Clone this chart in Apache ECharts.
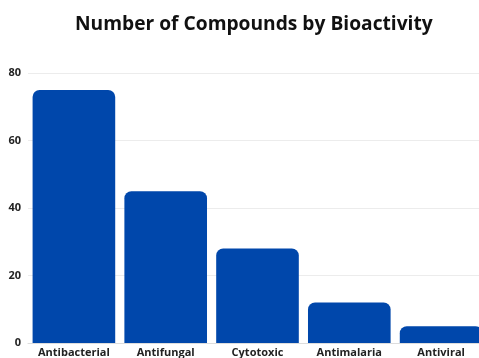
<!DOCTYPE html>
<html>
<head>
<meta charset="utf-8">
<script src="https://cdn.jsdelivr.net/npm/echarts@6/dist/echarts.min.js"></script>
<style>
  html, body { margin: 0; padding: 0; background: #ffffff; }
  #chart { width: 479px; height: 358px; }
</style>
</head>
<body>
<div id="chart"></div>
<script>
// Compound counts grouped by bioactivity class
const categories = ['Antibacterial', 'Antifungal', 'Cytotoxic', 'Antimalaria', 'Antiviral'];
const compoundCounts = [75, 45, 28, 12, 5];
const yTicks = { min: 0, max: 80, interval: 20 };

const chart = echarts.init(document.getElementById('chart'), null, { renderer: 'canvas' });

chart.setOption({
  animation: false,
  backgroundColor: '#ffffff',
  title: {
    text: 'Number of Compounds by Bioactivity',
    left: 70,
    top: 10,
    textStyle: {
      fontFamily: '"Open Sans", sans-serif',
      fontWeight: 'bold',
      fontSize: 19.2,
      color: '#111111'
    }
  },
  // the plot runs a little past the right edge, so the last bar is clipped
  grid: { left: 28, top: 73, bottom: 15, width: 459, outerBoundsMode: 'none' },
  xAxis: {
    type: 'category',
    data: categories,
    axisTick: { show: false },
    axisLine: { lineStyle: { color: '#dddddd', width: 1 } },
    axisLabel: {
      interval: 0,
      margin: 4,
      fontFamily: '"Open Sans", sans-serif',
      fontWeight: 'bold',
      fontSize: 11,
      color: '#222222'
    }
  },
  yAxis: {
    type: 'value',
    min: yTicks.min,
    max: yTicks.max,
    interval: yTicks.interval,
    axisLine: { show: false },
    axisTick: { show: false },
    splitLine: { lineStyle: { color: '#ececec', width: 1 } },
    axisLabel: {
      margin: 7,
      fontFamily: '"Open Sans", sans-serif',
      fontWeight: 'bold',
      fontSize: 11,
      color: '#222222'
    }
  },
  series: [{
    type: 'bar',
    data: compoundCounts,
    barCategoryGap: '10%',
    itemStyle: { color: '#0047AB', borderRadius: [7, 7, 0, 0] }
  }]
});
</script>
</body>
</html>
